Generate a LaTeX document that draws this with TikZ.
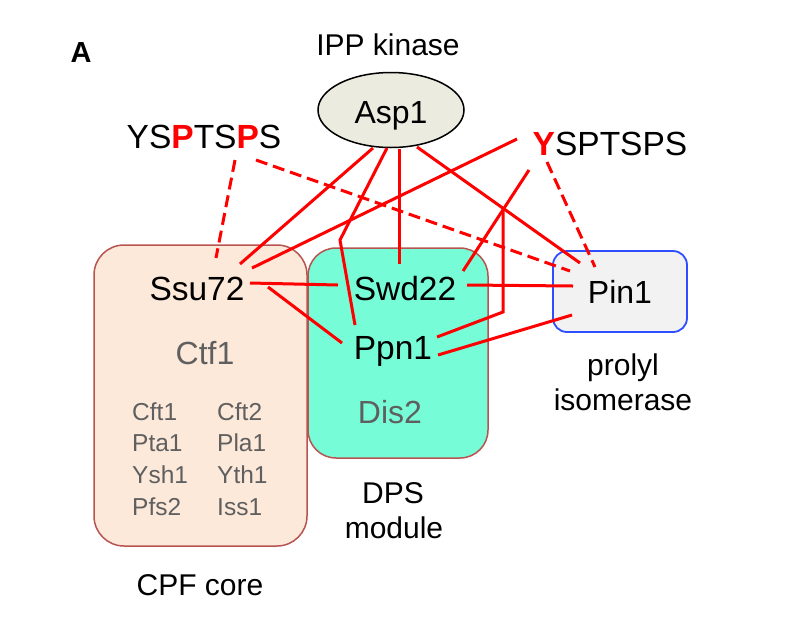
\documentclass[tikz,border=0pt]{standalone}
\usepackage{fontspec}
\setmainfont{Liberation Sans}
\usetikzlibrary{calc,shapes.geometric}
\definecolor{edgered}{HTML}{FF0000}
\definecolor{cpffill}{HTML}{FCE9DA}
\definecolor{boxborder}{HTML}{B85450}
\definecolor{disfill}{HTML}{76FCD7}
\definecolor{pinfill}{HTML}{F2F2F2}
\definecolor{pinborder}{HTML}{2F4EFF}
\definecolor{aspfill}{HTML}{EBEBDF}
\definecolor{txtgray}{HTML}{5F5F5F}
\begin{document}
\begin{tikzpicture}[x=1pt,y=-1pt,
  bigtxt/.style={font=\fontsize{33.5}{40}\selectfont, inner sep=0pt, anchor=base},
  midtxt/.style={font=\fontsize{30}{36}\selectfont, inner sep=0pt, anchor=base},
  graybig/.style={font=\fontsize{32}{38}\selectfont, text=txtgray, inner sep=0pt, anchor=base},
  graysmall/.style={font=\fontsize{24.5}{30}\selectfont, text=txtgray, inner sep=0pt, anchor=base west},
  cpfbox/.style={draw=boxborder, fill=cpffill, line width=1.5pt, rounded corners=30pt, inner sep=0pt},
  disbox/.style={draw=boxborder, fill=disfill, line width=1.5pt, rounded corners=28pt, inner sep=0pt},
  pinbox/.style={draw=pinborder, fill=pinfill, line width=1.8pt, rounded corners=14pt, inner sep=0pt},
  link/.style={draw=edgered, line width=3pt},
  dlink/.style={link, dash pattern=on 12pt off 6pt}
]
\useasboundingbox (0,0) rectangle (798,622);

% boxes
\node[cpfbox, minimum width=213pt, minimum height=301pt] (cpf) at (200.5,395.5) {};
\node[disbox, minimum width=180pt, minimum height=210pt] (dis) at (398,353) {};
\node[pinbox, minimum width=134pt, minimum height=81pt] (pinb) at (620,291.5) {};

% text nodes
\node[font=\fontsize{29}{34}\selectfont\bfseries, inner sep=0pt, anchor=base] (lblA) at (81,62) {A};
\node[midtxt] (ipp) at (388,55) {IPP kinase};
\node[bigtxt] (ysl) at (204,148) {YS\textcolor{edgered}{\textbf{P}}TS\textcolor{edgered}{\textbf{P}}S};
\node[bigtxt] (ysr) at (610,155) {\textcolor{edgered}{\textbf{Y}}SPTSPS};
\node[bigtxt] (ssu) at (197,300) {Ssu72};
\node[bigtxt] (swd) at (405,300) {Swd22};
\node[bigtxt] (ppn) at (393,359) {Ppn1};
\node[bigtxt, font=\fontsize{32}{38}\selectfont] (pin) at (620,303) {Pin1};
\node[graybig] (ctf) at (205,364) {Ctf1};
\node[graybig] (dis2) at (390,423) {Dis2};
\node[graysmall] (c1) at (132,420) {Cft1};
\node[graysmall] (c2) at (132,451) {Pta1};
\node[graysmall] (c3) at (132,483) {Ysh1};
\node[graysmall] (c4) at (132,515) {Pfs2};
\node[graysmall] (d1) at (217,420) {Cft2};
\node[graysmall] (d2) at (217,451) {Pla1};
\node[graysmall] (d3) at (217,483) {Yth1};
\node[graysmall] (d4) at (217,515) {Iss1};
\node[midtxt] (dps) at (393,503) {DPS};
\node[midtxt] (mod) at (394,538) {module};
\node[midtxt] (cpfl) at (200,595) {CPF core};
\node[midtxt] (pro) at (623,375) {prolyl};
\node[midtxt] (iso) at (623,410) {isomerase};

% Asp1 ellipse
\node[ellipse, draw=black, line width=1.5pt, fill=aspfill, minimum width=146pt, minimum height=75pt, inner sep=0pt] (asp) at (391,110) {};
\node[bigtxt, font=\fontsize{32}{38}\selectfont] (asptxt) at (391,123) {Asp1};

% helper coordinates
\coordinate (kink) at (340,240);
\coordinate (vtop) at (503,210);
\coordinate (vbot) at (503,312);

% connectors
\draw[link] ($(asp)+(-18,38)$) -- ($(ssu.base)+(43,-36)$);
\draw[link] ($(asp)+(-4,38)$) -- (kink) -- ($(ppn.base)+(-38,-34)$);
\draw[link] ($(asp)+(8,39)$) -- ($(swd.base)+(-6,-36)$);
\draw[link] ($(asp)+(26,37)$) -- ($(pin.base)+(-40,-40)$);

\draw[link] ($(ysr.base)+(-93,-16)$) -- ($(ssu.base)+(55,-32)$);
\draw[link] ($(ysr.base)+(-81,15)$) -- ($(swd.base)+(58,-29)$);
\draw[link] (vtop) -- (vbot) -- ($(ppn.base)+(44,-22)$);
\draw[dlink] ($(ysr.base)+(-63,7)$) -- ($(pin.base)+(-25,-36)$);

\draw[dlink] ($(ysl.base)+(31,12)$) -- ($(ssu.base)+(19,-42)$);
\draw[dlink] ($(ysl.base)+(52,12)$) -- ($(pin.base)+(-50,-32)$);

\draw[link] ($(ssu.base)+(53,-17)$) -- ($(swd.base)+(-67,-15)$);
\draw[link] ($(ssu.base)+(71,-13)$) -- ($(ppn.base)+(-51,-16)$);
\draw[link] ($(swd.base)+(62,-15)$) -- ($(pin.base)+(-47,-17)$);
\draw[link] ($(ppn.base)+(45,-4)$) -- ($(pin.base)+(-48,12)$);
\end{tikzpicture}
\end{document}
